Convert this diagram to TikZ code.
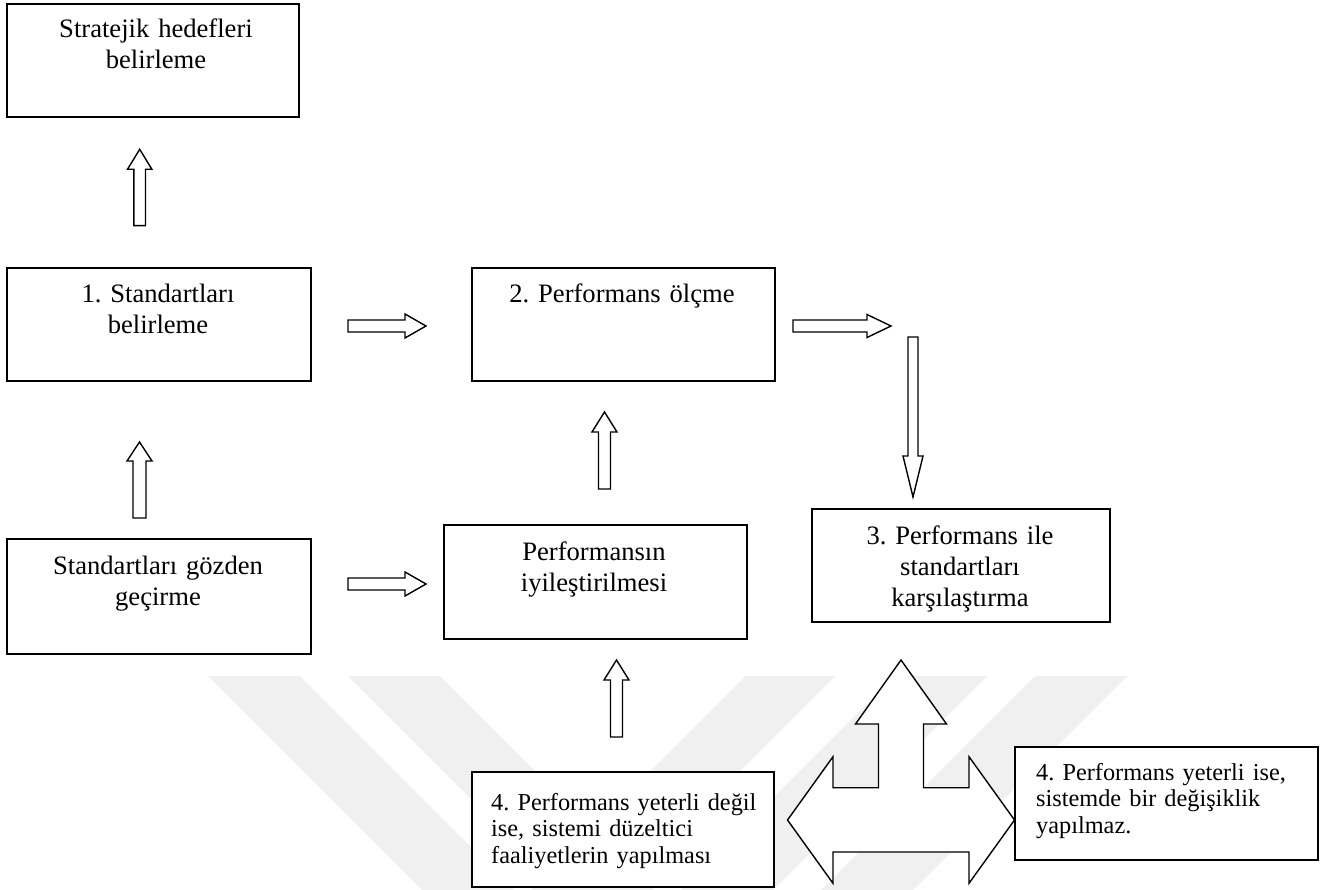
\documentclass[tikz,border=0pt]{standalone}
\usepackage{fontspec}
\setmainfont{Liberation Serif}
\usetikzlibrary{calc}
\frenchspacing

% hollow block arrow from tail #1 to tip #2:
% #3 shaft half-width, #4 head half-width, #5 head length
\newcommand\blockarrow[5]{%
  \coordinate (ba-h) at ($(#2)!#5!(#1)$);
  \draw[blk] ($(#1)!#3!90:(#2)$) -- ($(ba-h)!#3!90:(#2)$) -- ($(ba-h)!#4!90:(#2)$)
    -- (#2) -- ($(ba-h)!#4!-90:(#2)$) -- ($(ba-h)!#3!-90:(#2)$) -- ($(#1)!#3!-90:(#2)$) -- cycle;
}

\begin{document}
\begin{tikzpicture}[x=1pt,y=-1pt,
  frame/.style={draw=black, line width=1.8pt, fill=white, inner sep=0pt, anchor=north west},
  blk/.style={draw=black, line width=1.4pt, fill=white, line join=miter},
  ctext/.style={anchor=base, inner sep=0pt, text width=290pt, align=center,
    font=\fontsize{26.6}{31}\selectfont},
  ltext/.style={anchor=base west, inner sep=0pt, text width=290pt, align=left,
    font=\fontsize{24.3}{26.8}\selectfont},
  wm/.style={fill=black!6, draw=none}
]
\useasboundingbox (0,0) rectangle (1321,890);

% faint background chevrons
\begin{scope}
  \clip (0,0) rectangle (1321,890);
  \foreach \a/\b in {208/300, 348/440}
    \fill[wm] (\a,676) -- (\b,676) -- (\b+224,900) -- (\a+224,900) -- cycle;
  \foreach \a/\b in {745/835, 895/987, 1035/1127}
    \fill[wm] (\a,676) -- (\b,676) -- (\b-224,900) -- (\a-224,900) -- cycle;
\end{scope}

% boxes
\node[frame, minimum width=292pt, minimum height=113pt] (goal) at (6,3) {};
\node[frame, minimum width=304pt, minimum height=113pt] (std) at (6,267) {};
\node[frame, minimum width=303pt, minimum height=113pt] (meas) at (471,267) {};
\node[frame, minimum width=304pt, minimum height=115pt] (rev) at (6,538) {};
\node[frame, minimum width=303pt, minimum height=114pt] (impr) at (443,524) {};
\node[frame, minimum width=298pt, minimum height=113pt] (comp) at (811,508) {};
\node[frame, minimum width=302pt, minimum height=115pt] (fix) at (471,771) {};
\node[frame, minimum width=303pt, minimum height=113pt] (keep) at (1014,746) {};

% box texts
\node[ctext] (goal-t) at (156,38) {Stratejik hedefleri\\belirleme};
\node[ctext] (std-t) at (158,302) {1. Standartları\\belirleme};
\node[ctext] (meas-t) at (622,302) {2. Performans ölçme};
\node[ctext] (rev-t) at (158,574) {Standartları gözden\\geçirme};
\node[ctext] (impr-t) at (594,560) {Performansın\\iyileştirilmesi};
\node[ctext] (comp-t) at (960,544) {3. Performans ile\\standartları\\karşılaştırma};
\node[ltext] (fix-t) at (491,810) {4. Performans yeterli değil\\ise, sistemi düzeltici\\faaliyetlerin yapılması};
\node[ltext] (keep-t) at (1036,780) {4. Performans yeterli ise,\\sistemde bir değişiklik\\yapılmaz.};

% arrow end points
\coordinate (a1t) at (139.7,225.7); \coordinate (a1h) at (139.7,149.3);
\coordinate (a2t) at (348,326);     \coordinate (a2h) at (426,326);
\coordinate (a3t) at (793,326);     \coordinate (a3h) at (891,326);
\coordinate (a4t) at (913,337);     \coordinate (a4h) at (913,497);
\coordinate (a5t) at (139.5,518);   \coordinate (a5h) at (139.5,442);
\coordinate (a6t) at (348,584);     \coordinate (a6h) at (426,584);
\coordinate (a7t) at (604.5,489);   \coordinate (a7h) at (604.5,412);
\coordinate (a8t) at (616.5,737);   \coordinate (a8h) at (616.5,660);

\blockarrow{a1t}{a1h}{5.8pt}{12.2pt}{20pt}
\blockarrow{a2t}{a2h}{6pt}{12pt}{21pt}
\blockarrow{a3t}{a3h}{6pt}{11.5pt}{24pt}
\blockarrow{a4t}{a4h}{5pt}{10pt}{41pt}
\blockarrow{a5t}{a5h}{6.5pt}{12.5pt}{19pt}
\blockarrow{a6t}{a6h}{6pt}{12pt}{21pt}
\blockarrow{a7t}{a7h}{6pt}{12.5pt}{20pt}
\blockarrow{a8t}{a8h}{6pt}{12.5pt}{20pt}

% three-way arrow under the comparison box
\draw[blk] (901,660) -- (946.5,724) -- (923.5,724) -- (923.5,787.7) -- (969,787.7)
  -- (969,756.7) -- (1014.5,820) -- (969,883.3) -- (969,852) -- (833,852)
  -- (833,883.3) -- (787.5,820) -- (833,756.7) -- (833,787.7) -- (878.5,787.7)
  -- (878.5,724) -- (855.5,724) -- cycle;
\end{tikzpicture}
\end{document}
